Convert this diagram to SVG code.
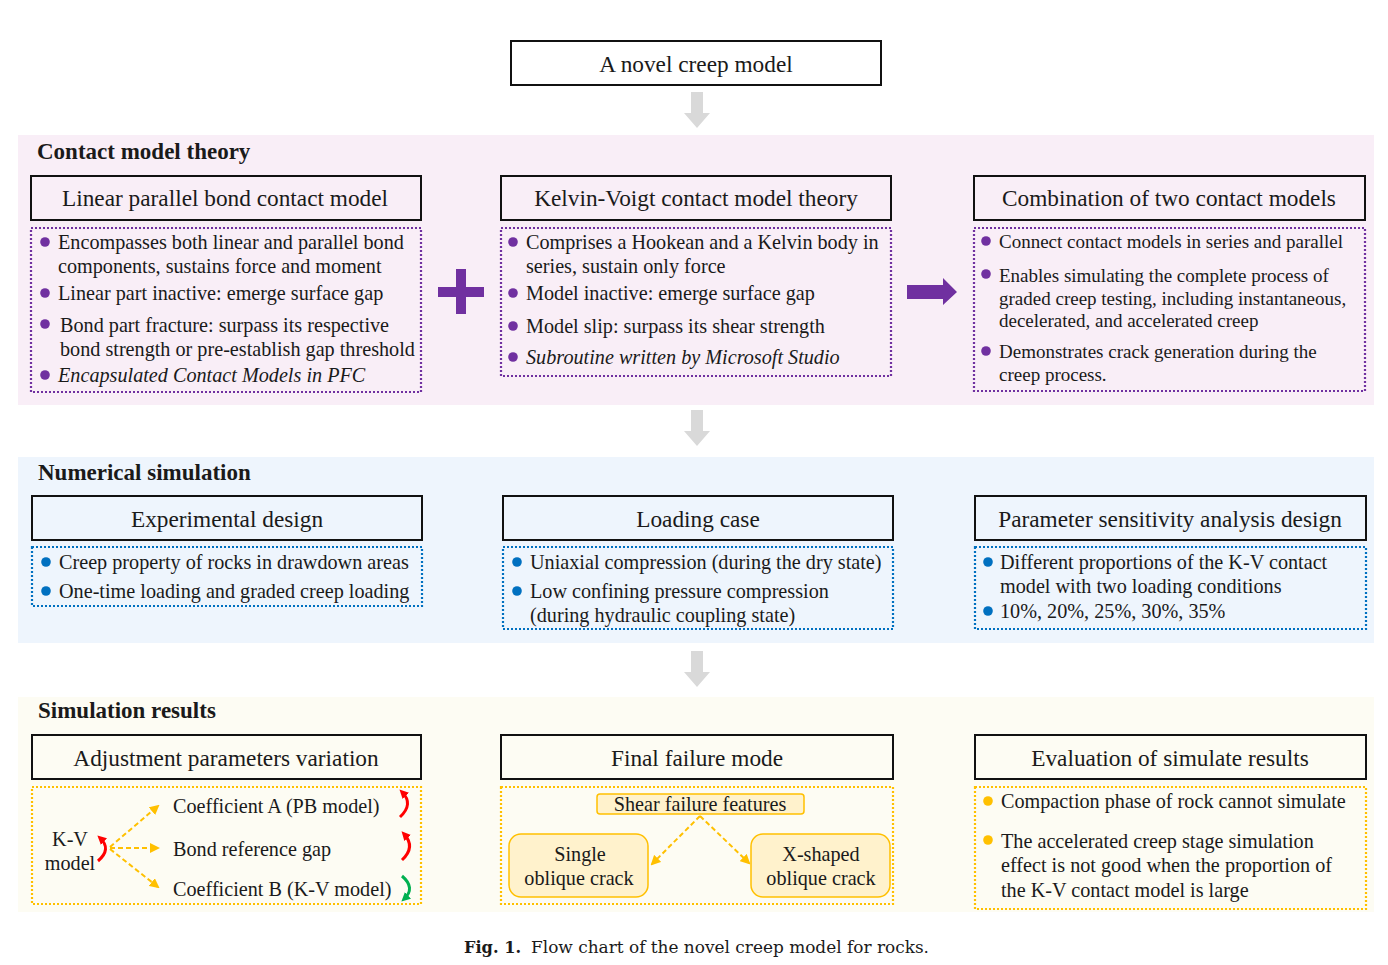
<svg xmlns="http://www.w3.org/2000/svg" width="1388" height="965" viewBox="0 0 1388 965">
<defs>
<style>
text{font-family:"Liberation Serif","Times New Roman",serif;fill:#1a1a1a}
.t{font-size:20.2px}
.t19{font-size:19px}
.h{font-size:23.3px;text-anchor:middle}
.sec{font-size:23px;font-weight:bold}
.hdr{fill:#fff;stroke:#111;stroke-width:2}
.hdrn{fill:none;stroke:#111;stroke-width:2}
.dp{fill:none;stroke:#7030a0;stroke-width:2.2;stroke-dasharray:2 2}
.db{fill:none;stroke:#0070c0;stroke-width:2.2;stroke-dasharray:2 2}
.dy{fill:none;stroke:#ffc000;stroke-width:2.2;stroke-dasharray:2 2}
.bp{fill:#7030a0}
.bb{fill:#0070c0}
.by{fill:#ffc000}
.gray{fill:#d9d9d9}
.ya{fill:none;stroke:#ffc000;stroke-width:2;stroke-dasharray:5 3}
.rc{fill:none;stroke:#ff0000;stroke-width:3}
.gc{fill:none;stroke:#00b050;stroke-width:3}
.ybox{fill:#fff2cc;stroke:#ffc000;stroke-width:1.5}
</style>
<marker id="ay" viewBox="0 0 10 10" refX="8" refY="5" markerWidth="5" markerHeight="5" orient="auto"><path d="M0,0 L10,5 L0,10 z" fill="#ffc000"/></marker>
<marker id="ar" viewBox="0 0 10 10" refX="6" refY="5" markerWidth="3" markerHeight="3" orient="auto"><path d="M0,0 L10,5 L0,10 z" fill="#ff0000"/></marker>
<marker id="ag" viewBox="0 0 10 10" refX="6" refY="5" markerWidth="3" markerHeight="3" orient="auto"><path d="M0,0 L10,5 L0,10 z" fill="#00b050"/></marker>
</defs>
<rect width="1388" height="965" fill="#fff"/>

<!-- section backgrounds -->
<rect x="18" y="135" width="1356" height="270" fill="#f9eef7"/>
<rect x="18" y="457" width="1356" height="186" fill="#eef5fd"/>
<rect x="18" y="697" width="1356" height="215" fill="#fdfcf3"/>

<g id="top">
<rect x="511" y="41" width="370" height="44" class="hdr"/>
<text x="696" y="72" class="h">A novel creep model</text>
</g>

<g id="connectors">
<path class="gray" d="M691,92 H703 V113 H710 L697,128 L684,113 H691 Z"/>
<path class="gray" d="M691,410 H703 V431 H710 L697,446 L684,431 H691 Z"/>
<path class="gray" d="M691,651 H703 V672 H710 L697,687 L684,672 H691 Z"/>
<path class="bp" d="M456,269 H466 V287 H484 V297 H466 V314 H456 V297 H438 V287 H456 Z"/>
<path class="bp" d="M907,285 H943 V278 L957,292 L943,305 V299 H907 Z"/>
</g>

<!-- Contact model theory -->
<text x="37" y="159" class="sec">Contact model theory</text>

<g id="lpb">
<rect x="31" y="176" width="390" height="44" class="hdrn"/>
<text x="225" y="206" class="h">Linear parallel bond contact model</text>
<rect x="31" y="228" width="390" height="164" class="dp"/>
<circle cx="45" cy="242" r="4.8" class="bp"/>
<text x="58" y="249" class="t">Encompasses both linear and parallel bond</text>
<text x="58" y="273" class="t">components, sustains force and moment</text>
<circle cx="45" cy="293" r="4.8" class="bp"/>
<text x="58" y="300" class="t">Linear part inactive: emerge surface gap</text>
<circle cx="45" cy="324" r="4.8" class="bp"/>
<text x="60" y="332" class="t">Bond part fracture: surpass its respective</text>
<text x="60" y="356" class="t">bond strength or pre-establish gap threshold</text>
<circle cx="45" cy="375" r="4.8" class="bp"/>
<text x="58" y="382" class="t" font-style="italic">Encapsulated Contact Models in PFC</text>
</g>

<g id="kv">
<rect x="501" y="176" width="390" height="44" class="hdrn"/>
<text x="696" y="206" class="h">Kelvin-Voigt contact model theory</text>
<rect x="501" y="228" width="390" height="148" class="dp"/>
<circle cx="513" cy="242" r="4.8" class="bp"/>
<text x="526" y="249" class="t">Comprises a Hookean and a Kelvin body in</text>
<text x="526" y="273" class="t">series, sustain only force</text>
<circle cx="513" cy="293" r="4.8" class="bp"/>
<text x="526" y="300" class="t">Model inactive: emerge surface gap</text>
<circle cx="513" cy="326" r="4.8" class="bp"/>
<text x="526" y="333" class="t">Model slip: surpass its shear strength</text>
<circle cx="513" cy="357" r="4.8" class="bp"/>
<text x="526" y="364" class="t" font-style="italic">Subroutine written by Microsoft Studio</text>
</g>

<g id="comb">
<rect x="974" y="176" width="391" height="44" class="hdrn"/>
<text x="1169" y="206" class="h">Combination of two contact models</text>
<rect x="974" y="228" width="391" height="163" class="dp"/>
<circle cx="986" cy="241" r="4.8" class="bp"/>
<text x="999" y="248" class="t19">Connect contact models in series and parallel</text>
<circle cx="986" cy="274" r="4.8" class="bp"/>
<text x="999" y="282" class="t19">Enables simulating the complete process of</text>
<text x="999" y="305" class="t19">graded creep testing, including instantaneous,</text>
<text x="999" y="327" class="t19">decelerated, and accelerated creep</text>
<circle cx="986" cy="351" r="4.8" class="bp"/>
<text x="999" y="358" class="t19">Demonstrates crack generation during the</text>
<text x="999" y="381" class="t19">creep process.</text>
</g>

<!-- Numerical simulation -->
<text x="38" y="480" class="sec">Numerical simulation</text>

<g id="exp">
<rect x="32" y="496" width="390" height="44" class="hdrn"/>
<text x="227" y="527" class="h">Experimental design</text>
<rect x="32" y="547" width="390" height="59" class="db"/>
<circle cx="46" cy="562" r="4.8" class="bb"/>
<text x="59" y="569" class="t">Creep property of rocks in drawdown areas</text>
<circle cx="46" cy="591" r="4.8" class="bb"/>
<text x="59" y="598" class="t">One-time loading and graded creep loading</text>
</g>

<g id="load">
<rect x="503" y="496" width="390" height="44" class="hdrn"/>
<text x="698" y="527" class="h">Loading case</text>
<rect x="503" y="547" width="390" height="82" class="db"/>
<circle cx="517" cy="562" r="4.8" class="bb"/>
<text x="530" y="569" class="t">Uniaxial compression (during the dry state)</text>
<circle cx="517" cy="591" r="4.8" class="bb"/>
<text x="530" y="598" class="t">Low confining pressure compression</text>
<text x="530" y="622" class="t">(during hydraulic coupling state)</text>
</g>

<g id="param">
<rect x="975" y="496" width="391" height="44" class="hdrn"/>
<text x="1170" y="527" class="h">Parameter sensitivity analysis design</text>
<rect x="975" y="547" width="391" height="82" class="db"/>
<circle cx="988" cy="562" r="4.8" class="bb"/>
<text x="1000" y="569" class="t">Different proportions of the K-V contact</text>
<text x="1000" y="593" class="t">model with two loading conditions</text>
<circle cx="988" cy="611" r="4.8" class="bb"/>
<text x="1000" y="618" class="t">10%, 20%, 25%, 30%, 35%</text>
</g>

<!-- Simulation results -->
<text x="38" y="718" class="sec">Simulation results</text>

<g id="adj">
<rect x="32" y="735" width="389" height="44" class="hdrn"/>
<text x="226" y="766" class="h">Adjustment parameters variation</text>
<rect x="32" y="787" width="389" height="117" class="dy"/>
<text x="70" y="846" class="t" text-anchor="middle">K-V</text>
<text x="70" y="870" class="t" text-anchor="middle">model</text>
<text x="173" y="813" class="t">Coefficient A (PB model)</text>
<text x="173" y="856" class="t">Bond reference gap</text>
<text x="173" y="896" class="t">Coefficient B (K-V model)</text>
<path class="ya" d="M110,847 L158,806" marker-end="url(#ay)"/>
<path class="ya" d="M110,848 L158,848" marker-end="url(#ay)"/>
<path class="ya" d="M110,849 L158,887" marker-end="url(#ay)"/>
<path class="rc" d="M98,861 Q112,849 100,838" marker-end="url(#ar)"/>
<path class="rc" d="M400,817 Q414,804 402,792" marker-end="url(#ar)"/>
<path class="rc" d="M402,860 Q416,847 404,834" marker-end="url(#ar)"/>
<path class="gc" d="M402,876 Q416,888 404,899" marker-end="url(#ag)"/>
</g>

<g id="fail">
<rect x="501" y="735" width="392" height="44" class="hdrn"/>
<text x="697" y="766" class="h">Final failure mode</text>
<rect x="501" y="787" width="392" height="117" class="dy"/>
<rect x="597" y="794" width="207" height="20" rx="3" class="ybox"/>
<text x="700" y="811" class="t" text-anchor="middle">Shear failure features</text>
<rect x="509" y="834" width="139" height="63" rx="12" class="ybox"/>
<text x="580" y="861" class="t" text-anchor="middle">Single</text>
<text x="579" y="885" class="t" text-anchor="middle">oblique crack</text>
<rect x="751" y="834" width="139" height="63" rx="12" class="ybox"/>
<text x="821" y="861" class="t" text-anchor="middle">X-shaped</text>
<text x="821" y="885" class="t" text-anchor="middle">oblique crack</text>
<path class="ya" d="M700,816 L652,864" marker-end="url(#ay)"/>
<path class="ya" d="M700,816 L749,863" marker-end="url(#ay)"/>
</g>

<g id="eval">
<rect x="975" y="735" width="391" height="44" class="hdrn"/>
<text x="1170" y="766" class="h">Evaluation of simulate results</text>
<rect x="975" y="787" width="391" height="122" class="dy"/>
<circle cx="988" cy="801" r="4.8" class="by"/>
<text x="1001" y="808" class="t">Compaction phase of rock cannot simulate</text>
<circle cx="988" cy="840" r="4.8" class="by"/>
<text x="1001" y="848" class="t">The accelerated creep stage simulation</text>
<text x="1001" y="872" class="t">effect is not good when the proportion of</text>
<text x="1001" y="897" class="t">the K-V contact model is large</text>
</g>

<g id="caption">
<text x="464" y="953" style="font-family:'DejaVu Serif','Liberation Serif',serif;font-size:16px;font-weight:bold" textLength="57" lengthAdjust="spacingAndGlyphs">Fig. 1.</text>
<text x="531" y="953" style="font-family:'DejaVu Serif','Liberation Serif',serif;font-size:16px" textLength="398" lengthAdjust="spacingAndGlyphs">Flow chart of the novel creep model for rocks.</text>
</g>
</svg>
